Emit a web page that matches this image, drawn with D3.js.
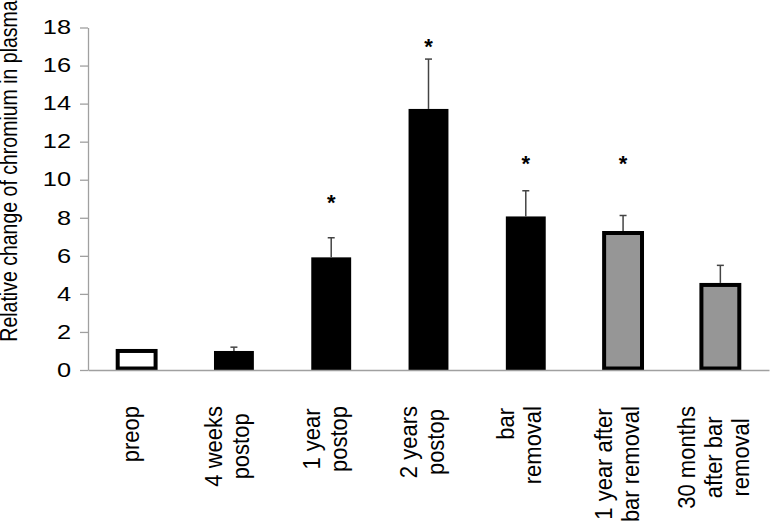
<!DOCTYPE html>
<html>
<head>
<meta charset="utf-8">
<script src="https://d3js.org/d3.v7.min.js"></script>
<style>
    body { margin: 0; background: #fff; }
    svg { display: block; font-family: "Liberation Sans", Arial, sans-serif; }
    .axis path, .axis line { stroke: #a0a0a0; stroke-width: 1.3px; }
    .axis text { fill: #000; font-size: 19.5px; }
</style>
</head>
<body>
<svg width="771" height="526"></svg>
<script>

    // data
    var categories = ["preop", "4 weeks postop", "1 year postop", "2 years postop",
                      "bar removal", "1 year after bar removal", "30 months after bar removal"];
    var labelLines = [
        ["preop"],
        ["4 weeks", "postop"],
        ["1 year", "postop"],
        ["2 years", "postop"],
        ["\u00a0\u00a0\u00a0\u00a0\u00a0\u00a0\u00a0bar", "removal"],
        ["1 year after", "bar removal"],
        ["30 months", "after bar", "removal"]
    ];
    var means = [1.0, 1.0, 5.92, 13.72, 8.07, 7.2, 4.47];
    var errTop = [null, 1.2, 6.95, 16.34, 9.42, 8.12, 5.5];
    var starAt = [null, null, 9.06, 17.28, 11.12, 11.1, null];
    var fills = ["#ffffff", "#000000", "#000000", "#000000", "#000000", "#969696", "#969696"];
    var outlined = [true, false, false, false, false, true, true];
    var yTicks = [0, 2, 4, 6, 8, 10, 12, 14, 16, 18];
    var yTitle = "Relative change of chromium in plasma";

    var svg = d3.select("svg"),
        plotLeft = 88, plotRight = 769, plotTop = 27.5, plotBottom = 370;

    var x = d3.scaleBand()
        .domain(categories)
        .range([plotLeft, plotRight])
        .paddingInner(0.59)
        .paddingOuter(0.295);

    var y = d3.scaleLinear()
        .domain([0, 18])
        .range([plotBottom, plotTop]);

    var rows = categories.map(function (c, i) {
        return { cat: c, v: means[i], err: errTop[i], star: starAt[i],
                 fill: fills[i], outlined: outlined[i], lines: labelLines[i] };
    });

    // bars
    svg.append("g").selectAll("rect")
        .data(rows)
        .enter()
        .append("rect")
        .attr("x", function (d) { return d.outlined ? x(d.cat) + 1 : x(d.cat); })
        .attr("width", function (d) { return d.outlined ? x.bandwidth() - 2 : x.bandwidth(); })
        .attr("y", function (d) { return y(d.v); })
        .attr("height", function (d) { return y(0) - y(d.v) - (d.outlined ? 1.5 : 0); })
        .attr("fill", function (d) { return d.fill; })
        .attr("stroke", function (d) { return d.outlined ? "#000" : "none"; })
        .attr("stroke-width", 4);

    // error bars (upper only)
    var eb = svg.append("g")
        .attr("stroke", "#444")
        .attr("stroke-width", 1.5)
        .selectAll("g")
        .data(rows.filter(function (d) { return d.err != null; }))
        .enter()
        .append("g");

    eb.append("line")
        .attr("x1", function (d) { return x(d.cat) + x.bandwidth() / 2; })
        .attr("x2", function (d) { return x(d.cat) + x.bandwidth() / 2; })
        .attr("y1", function (d) { return y(d.v) - (d.outlined ? 2 : 0); })
        .attr("y2", function (d) { return y(d.err); });

    eb.append("line")
        .attr("x1", function (d) { return x(d.cat) + x.bandwidth() / 2 - 3.5; })
        .attr("x2", function (d) { return x(d.cat) + x.bandwidth() / 2 + 3.5; })
        .attr("y1", function (d) { return y(d.err); })
        .attr("y2", function (d) { return y(d.err); });

    // significance stars
    svg.append("g").selectAll("text")
        .data(rows.filter(function (d) { return d.star != null; }))
        .enter()
        .append("text")
        .attr("x", function (d) { return x(d.cat) + x.bandwidth() / 2; })
        .attr("y", function (d) { return y(d.star) + 12.5; })
        .attr("text-anchor", "middle")
        .style("font-size", "22px")
        .style("font-weight", "bold")
        .text("*");

    // y axis
    var yAxis = d3.axisLeft(y)
        .tickValues(yTicks)
        .tickSize(8)
        .tickSizeOuter(0)
        .tickFormat(d3.format("d"));

    var gy = svg.append("g")
        .attr("class", "axis")
        .attr("transform", "translate(" + plotLeft + ",0)")
        .call(yAxis);

    gy.selectAll("text")
        .attr("x", 0)
        .attr("transform", "translate(-17,0) scale(1.3,1)");

    // x axis: a bare line
    var gx = svg.append("g")
        .attr("class", "axis")
        .attr("transform", "translate(0," + plotBottom + ")")
        .call(d3.axisBottom(x).tickSize(0).tickSizeOuter(0).tickFormat(""));
    gx.selectAll(".tick").remove();

    // category labels, rotated, lines centred in a block whose top sits under the axis
    var lh = 27, fs = 22, blockTop = 406;
    rows.forEach(function (d) {
        var cx = x(d.cat) + x.bandwidth() / 2;
        var n = d.lines.length;
        var g = svg.append("g");
        var texts = d.lines.map(function (s, i) {
            return g.append("text")
                .attr("text-anchor", "middle")
                .style("font-size", fs + "px")
                .style("white-space", "pre")
                .text(s)
                .datum(cx + (i - (n - 1) / 2) * lh + 2);
        });
        var maxW = d3.max(texts, function (t) { return t.node().getComputedTextLength(); });
        var cy = blockTop + maxW / 2;
        texts.forEach(function (t) {
            t.attr("transform", "translate(" + t.datum() + "," + cy + ") rotate(-90) scale(1,1.12)");
        });
    });

    // y axis title
    svg.append("text")
        .attr("transform", "translate(16.5,171) rotate(-90) scale(1,1.22)")
        .attr("text-anchor", "middle")
        .style("font-size", "19.5px")
        .text(yTitle);

</script>
</body>
</html>
